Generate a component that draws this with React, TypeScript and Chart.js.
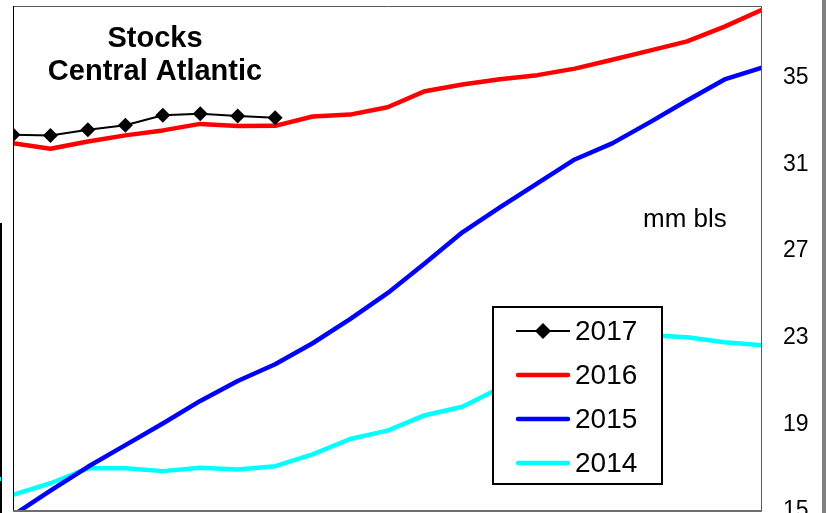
import React, { useEffect, useRef } from "react";
import { Chart, registerables } from "chart.js";

Chart.register(...registerables);

const weeks = ["W1","W2","W3","W4","W5","W6","W7","W8","W9","W10","W11","W12","W13","W14","W15","W16","W17","W18","W19","W20","W21"];
const stocks2017 = [32.36, 32.33, 32.59, 32.80, 33.26, 33.33, 33.22, 33.14];
const stocks2016 = [31.97, 31.71, 32.05, 32.33, 32.56, 32.86, 32.76, 32.77, 33.2, 33.29, 33.63, 34.37, 34.68, 34.92, 35.11, 35.41, 35.82, 36.24, 36.67, 37.35, 38.12];
const stocks2015 = [14.8, 15.94, 17.04, 18.04, 19.04, 20.08, 21.0, 21.77, 22.74, 23.85, 25.05, 26.43, 27.86, 29.01, 30.12, 31.22, 31.96, 32.93, 33.94, 34.91, 35.46];
const stocks2014 = [15.74, 16.28, 16.97, 16.97, 16.84, 17.0, 16.92, 17.07, 17.61, 18.32, 18.71, 19.42, 19.81, 20.67, 21.5, 22.33, 22.88, 23.11, 23.02, 22.79, 22.65];
const seriesNames = ["2017", "2016", "2015", "2014"];
const yTicks = [15, 19, 23, 27, 31, 35];
const yMin = 15;
const yMax = 38.3;
const titleLines = ["Stocks", "Central Atlantic"];
const unitLabel = "mm bls";

const FONT = "'Liberation Sans', Arial, Helvetica, sans-serif";

const decorPlugin = {
  id: "decor",
  beforeDraw(chart: any) {
    const ctx = chart.ctx;
    ctx.save();
    ctx.fillStyle = "#ffffff";
    ctx.fillRect(0, 0, chart.width, chart.height);
    ctx.restore();
  },
  afterDraw(chart: any) {
    const ctx = chart.ctx;
    const a = chart.chartArea;
    ctx.save();
    // plot frame
    ctx.lineWidth = 1;
    ctx.strokeStyle = "#5a5a5a";
    ctx.beginPath();
    ctx.moveTo(a.left, a.top + 0.5);
    ctx.lineTo(a.right, a.top + 0.5);
    ctx.moveTo(a.right - 0.5, a.top);
    ctx.lineTo(a.right - 0.5, a.bottom);
    ctx.stroke();
    ctx.strokeStyle = "#000000";
    ctx.beginPath();
    ctx.moveTo(a.left + 0.5, a.top);
    ctx.lineTo(a.left + 0.5, a.bottom);
    ctx.stroke();
    ctx.strokeStyle = "#6e6e6e";
    ctx.lineWidth = 2;
    ctx.beginPath();
    ctx.moveTo(a.left, a.bottom);
    ctx.lineTo(a.right, a.bottom);
    ctx.stroke();

    // edge artifacts
    ctx.fillStyle = "#000000";
    ctx.fillRect(0, 223, 2, 290);
    ctx.fillStyle = "#00ffff";
    ctx.fillRect(0, 477, 1, 4);
    ctx.fillStyle = "#808080";
    ctx.fillRect(822, 0, 4, chart.height);

    // title
    ctx.fillStyle = "#000000";
    ctx.font = `bold 29px ${FONT}`;
    ctx.textAlign = "center";
    ctx.textBaseline = "alphabetic";
    ctx.fillText(titleLines[0], 155, 47);
    ctx.fillText(titleLines[1], 155, 80);

    // unit label
    ctx.font = `26px ${FONT}`;
    ctx.textAlign = "left";
    ctx.fillText(unitLabel, 643, 227);

    // legend
    const lx = 493, ly = 307, lw = 169, lh = 177;
    ctx.fillStyle = "#ffffff";
    ctx.fillRect(lx, ly, lw, lh);
    ctx.strokeStyle = "#000000";
    ctx.lineWidth = 2;
    ctx.strokeRect(lx, ly, lw, lh);
    const dsets = chart.data.datasets;
    dsets.forEach((ds: any, i: number) => {
      const cy = 331 + i * 44;
      ctx.strokeStyle = ds.borderColor;
      ctx.lineWidth = ds.borderWidth;
      ctx.lineCap = i === 0 ? "butt" : "round";
      ctx.beginPath();
      ctx.moveTo(i === 0 ? 516 : 518, cy);
      ctx.lineTo(i === 0 ? 570 : 568, cy);
      ctx.stroke();
      if (i === 0) {
        ctx.fillStyle = "#000000";
        ctx.beginPath();
        const r = 8;
        ctx.moveTo(543 - r, cy);
        ctx.lineTo(543, cy - r);
        ctx.lineTo(543 + r, cy);
        ctx.lineTo(543, cy + r);
        ctx.closePath();
        ctx.fill();
      }
      ctx.fillStyle = "#000000";
      ctx.font = `28px ${FONT}`;
      ctx.textAlign = "left";
      ctx.textBaseline = "middle";
      ctx.fillText(ds.label, 575, cy + 1);
    });
    ctx.restore();
  },
};

export default function App() {
  const ref = useRef<HTMLCanvasElement | null>(null);
  useEffect(() => {
    if (!ref.current) return;
    const chart = new Chart(ref.current, {
      type: "line",
      data: {
        labels: weeks,
        datasets: [
          { label: seriesNames[0], data: stocks2017, borderColor: "#000000", backgroundColor: "#000000", borderWidth: 2, pointStyle: "rectRot", pointRadius: 7.5, pointBackgroundColor: "#000000", pointBorderWidth: 0, tension: 0, clip: 0 },
          { label: seriesNames[1], data: stocks2016, borderColor: "#ff0000", borderWidth: 4.5, pointRadius: 0, borderJoinStyle: "round", tension: 0, clip: 0 },
          { label: seriesNames[2], data: stocks2015, borderColor: "#0000ff", borderWidth: 4.5, pointRadius: 0, borderJoinStyle: "round", tension: 0, clip: 0 },
          { label: seriesNames[3], data: stocks2014, borderColor: "#00ffff", borderWidth: 4.5, pointRadius: 0, borderJoinStyle: "round", tension: 0, clip: 0 },
        ],
      } as any,
      options: {
        responsive: false,
        animation: false,
        devicePixelRatio: 1,
        layout: { autoPadding: false, padding: { left: 13, top: 6, bottom: 2, right: 0 } },
        plugins: { legend: { display: false }, tooltip: { enabled: false }, title: { display: false } },
        scales: {
          x: { display: false },
          y: {
            position: "right",
            min: yMin,
            max: yMax,
            grid: { display: false, drawTicks: false },
            border: { display: false },
            ticks: { color: "#000000", padding: 21, font: { size: 23, family: FONT } },
            afterBuildTicks: (s: any) => { s.ticks = yTicks.map((v) => ({ value: v })); },
            afterFit: (s: any) => { s.width = 64; s.paddingTop = 0; s.paddingBottom = 0; },
          } as any,
        },
      } as any,
      plugins: [decorPlugin],
    });
    return () => chart.destroy();
  }, []);

  return (
    <div style={{ position: "absolute", left: 0, top: 0, width: 826, height: 513, background: "#fff" }}>
      <canvas ref={ref} width={826} height={513} style={{ display: "block" }} />
    </div>
  );
}
